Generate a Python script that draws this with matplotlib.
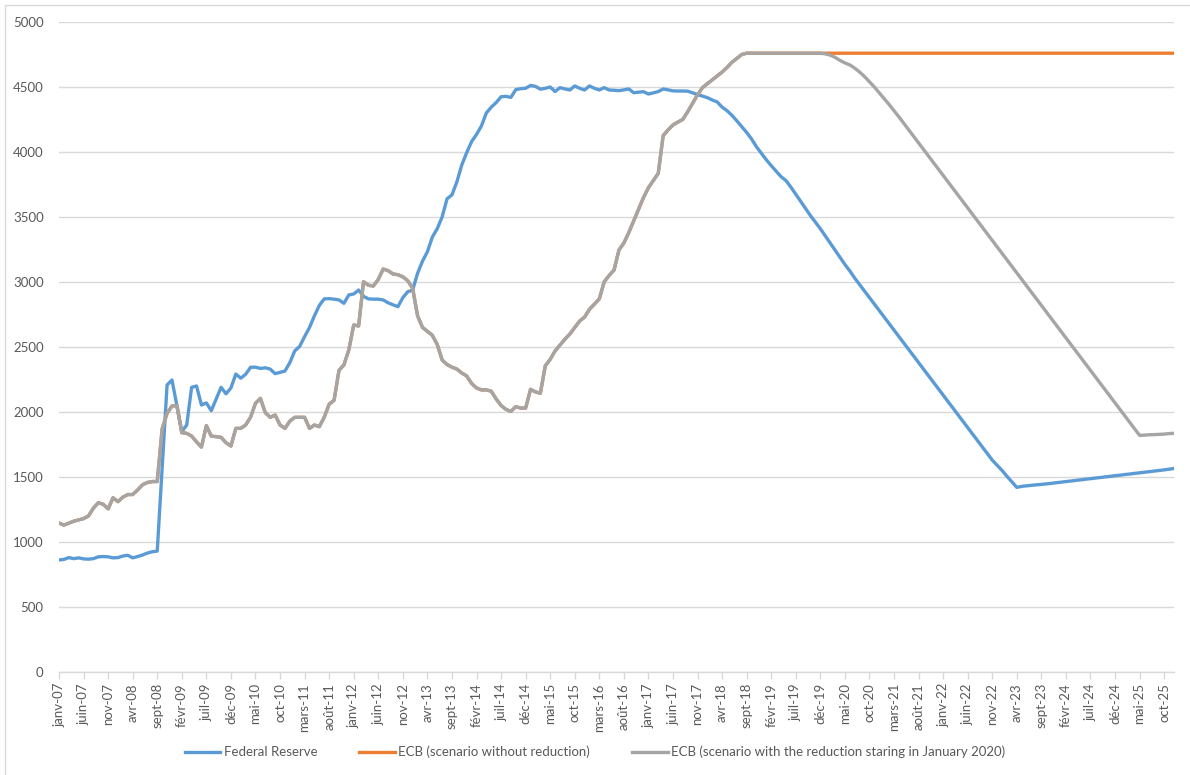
import matplotlib
matplotlib.use("Agg")
import matplotlib.pyplot as plt
import numpy as np
from matplotlib.lines import Line2D
from matplotlib.patches import Rectangle

plt.rcParams['font.family'] = ['Lato', 'DejaVu Sans']

# ---------------- data (monthly, janv-07 .. déc-25) ----------------
month_abbr = ["janv", "févr", "mars", "avr", "mai", "juin",
              "juil", "août", "sept", "oct", "nov", "déc"]
first_year = 2007
last_year = 2025

federal_reserve = [
    862, 866, 880, 872, 878, 870, 868, 872, 886, 888, 886, 878,        # 2007
    880, 892, 898, 878, 888, 900, 915, 925, 930, 1570, 2208, 2246,     # 2008
    2050, 1848, 1900, 2190, 2200, 2054, 2070, 2010, 2100, 2190, 2140, 2185,  # 2009
    2292, 2260, 2290, 2344, 2345, 2335, 2340, 2330, 2295, 2305, 2315, 2380,  # 2010
    2470, 2505, 2580, 2650, 2740, 2820, 2870, 2872, 2868, 2862, 2836, 2900,  # 2011
    2908, 2938, 2890, 2870, 2868, 2868, 2862, 2840, 2825, 2810, 2880, 2925,  # 2012
    2938, 3067, 3160, 3233, 3345, 3410, 3500, 3640, 3670, 3770, 3900, 3995,  # 2013
    4080, 4135, 4200, 4300, 4345, 4380, 4425, 4428, 4420, 4480, 4487, 4490,  # 2014
    4512, 4505, 4483, 4490, 4500, 4465, 4495, 4485, 4477, 4508, 4490, 4477,  # 2015
    4508, 4490, 4477, 4495, 4477, 4475, 4472, 4478, 4485, 4456, 4460, 4464,  # 2016
    4446, 4455, 4465, 4485, 4478, 4470, 4469, 4469, 4468, 4455, 4442, 4430,  # 2017
    4418, 4400, 4385, 4345, 4318, 4282, 4240, 4195, 4150, 4100, 4040, 3990,  # 2018
    3940, 3895, 3852, 3810, 3780, 3730, 3675, 3620, 3565, 3510, 3460, 3410,  # 2019
    3355, 3300, 3245, 3190, 3135, 3085, 3030, 2980, 2930, 2880, 2830, 2780,  # 2020
    2730, 2680, 2630, 2580, 2530, 2480, 2430, 2380, 2330, 2280, 2230, 2180,  # 2021
    2130, 2080, 2030, 1980, 1930, 1880, 1830, 1780, 1730, 1680, 1630, 1590,  # 2022
    1550, 1505, 1462, 1420, 1428, 1432, 1436, 1440, 1443, 1447, 1451, 1456,  # 2023
    1460, 1465, 1469, 1474, 1478, 1483, 1487, 1492, 1496, 1501, 1505, 1510,  # 2024
    1514, 1519, 1523, 1528, 1532, 1537, 1541, 1546, 1550, 1555, 1560, 1565,  # 2025
]

ecb_history = [
    1146, 1130, 1145, 1160, 1170, 1180, 1200, 1260, 1302, 1290, 1255, 1340,  # 2007
    1310, 1345, 1365, 1365, 1400, 1440, 1458, 1465, 1465, 1870, 1990, 2046,  # 2008
    2050, 1841, 1836, 1815, 1770, 1730, 1895, 1815, 1810, 1805, 1764, 1738,  # 2009
    1874, 1874, 1900, 1960, 2067, 2105, 1995, 1959, 1977, 1900, 1874, 1930,  # 2010
    1959, 1959, 1959, 1874, 1900, 1887, 1960, 2060, 2090, 2320, 2362, 2477,  # 2011
    2669, 2662, 3002, 2975, 2969, 3020, 3100, 3087, 3062, 3056, 3040, 3010,  # 2012
    2951, 2740, 2651, 2620, 2590, 2520, 2400, 2365, 2345, 2330, 2300, 2277,  # 2013
    2220, 2185, 2170, 2170, 2160, 2100, 2050, 2020, 2005, 2041, 2030, 2030,  # 2014
    2174, 2155, 2144, 2355, 2405, 2470, 2515, 2560, 2600, 2650, 2700, 2730,  # 2015
    2790, 2830, 2870, 3002, 3050, 3092, 3246, 3300, 3380, 3470, 3560, 3650,  # 2016
    3725, 3780, 3836, 4126, 4170, 4208, 4230, 4251, 4310, 4375, 4440, 4495,  # 2017
    4525, 4555, 4585, 4615, 4650, 4690, 4720, 4750, 4760, 4760, 4760, 4760,  # 2018
    4760, 4760, 4760, 4760, 4760, 4760, 4760, 4760, 4760, 4760, 4760, 4760,  # 2019
]

ecb_no_reduction_path = [
    4760, 4760, 4760, 4760, 4760, 4760, 4760, 4760, 4760, 4760, 4760, 4760,  # 2020
    4760, 4760, 4760, 4760, 4760, 4760, 4760, 4760, 4760, 4760, 4760, 4760,  # 2021
    4760, 4760, 4760, 4760, 4760, 4760, 4760, 4760, 4760, 4760, 4760, 4760,  # 2022
    4760, 4760, 4760, 4760, 4760, 4760, 4760, 4760, 4760, 4760, 4760, 4760,  # 2023
    4760, 4760, 4760, 4760, 4760, 4760, 4760, 4760, 4760, 4760, 4760, 4760,  # 2024
    4760, 4760, 4760, 4760, 4760, 4760, 4760, 4760, 4760, 4760, 4760, 4760,  # 2025
]

ecb_reduction_path = [
    4755, 4745, 4728, 4705, 4685, 4670, 4645, 4615, 4580, 4540, 4500, 4455,  # 2020
    4410, 4365, 4318, 4270, 4220, 4170, 4120, 4070, 4020, 3970, 3920, 3870,  # 2021
    3820, 3770, 3720, 3670, 3620, 3570, 3520, 3470, 3420, 3370, 3320, 3270,  # 2022
    3220, 3170, 3120, 3070, 3020, 2970, 2920, 2870, 2820, 2770, 2720, 2670,  # 2023
    2620, 2570, 2520, 2470, 2420, 2370, 2320, 2270, 2220, 2170, 2120, 2070,  # 2024
    2020, 1970, 1920, 1870, 1820, 1822, 1825, 1826, 1828, 1830, 1834, 1836,  # 2025
]

series_labels = ["Federal Reserve",
                 "ECB (scenario without reduction)",
                 "ECB (scenario with the reduction staring in January 2020)"]

ecb_no_reduction = ecb_history + ecb_no_reduction_path
ecb_reduction = ecb_history + ecb_reduction_path

month_labels = [f"{m}-{str(y)[2:]}" for y in range(first_year, last_year + 1)
                for m in month_abbr]
x = np.arange(len(month_labels))
tick_step = 5

# ---------------- figure ----------------
W, H = 1190, 775
fig = plt.figure(figsize=(W / 100, H / 100), dpi=100)
fig.patch.set_facecolor("white")

# chart-area border (cropped at right/bottom like the reference)
fig.patches.append(Rectangle((5 / W, -0.1), 1.2, 1 - 5 / H + 0.1,
                             transform=fig.transFigure, fill=False,
                             edgecolor="#D9D9D9", linewidth=1.0))

left, right, top, bottom = 59, 1174, 22, 672
ax = fig.add_axes([left / W, 1 - bottom / H, (right - left) / W, (bottom - top) / H])

blue = "#5B9BD5"
orange = "#ED7D31"
grey = "#A5A5A5"
lw = 2.4

ax.plot(x, federal_reserve, color=blue, lw=lw, solid_joinstyle="round", zorder=3)
ax.plot(x, ecb_no_reduction, color=orange, lw=lw, solid_joinstyle="round", zorder=4)
ax.plot(x, ecb_reduction, color=grey, lw=lw, solid_joinstyle="round", zorder=5)

ax.set_xlim(0, len(month_labels) - 1)
ax.set_ylim(0, 5000)
ax.set_yticks(np.arange(0, 5001, 500))
ax.yaxis.grid(True, color="#D9D9D9", linewidth=1.0)
ax.set_axisbelow(True)

ticks = x[::tick_step]
ax.set_xticks(ticks)
ax.set_xticklabels([month_labels[i] for i in ticks], rotation=90,
                   ha="center", va="top")

for s in ["top", "right", "left"]:
    ax.spines[s].set_visible(False)
ax.spines["bottom"].set_color("#D9D9D9")
ax.spines["bottom"].set_linewidth(1.0)

ax.tick_params(axis="y", length=0, pad=11, labelsize=9.5, labelcolor="#595959")
ax.tick_params(axis="x", length=5, width=1.0, color="#D9D9D9", pad=3,
               labelsize=9.5, labelcolor="#595959")

handles = [Line2D([], [], color=c, lw=lw) for c in (blue, orange, grey)]
fig.legend(handles, series_labels, loc="center", ncol=3,
           bbox_to_anchor=(0.5, 1 - 752 / H), frameon=False,
           fontsize=9.5, labelcolor="#595959", handlelength=2.7,
           handletextpad=0.25, columnspacing=3.2)

fig.savefig("out.png", dpi=100, facecolor="white")
